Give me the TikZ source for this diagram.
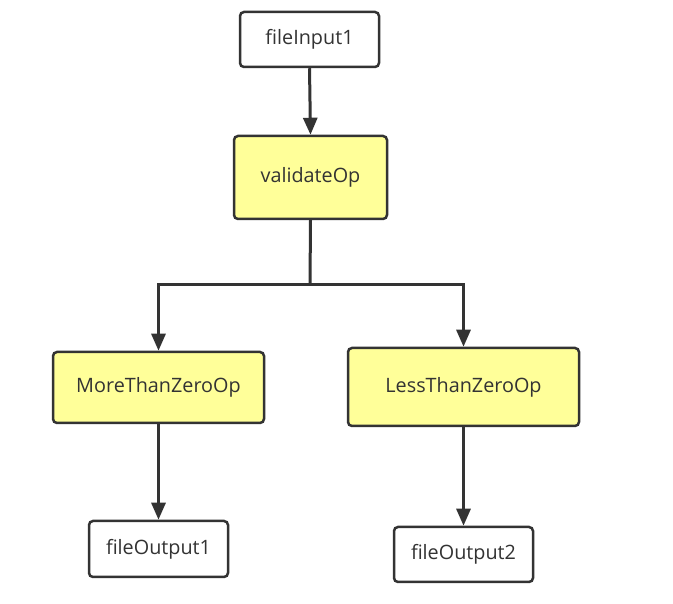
\documentclass[tikz,border=0pt]{standalone}
\usepackage{fontspec}
\setmainfont{Open Sans}
\usetikzlibrary{arrows.meta}
\definecolor{edgec}{HTML}{333333}
\definecolor{opfill}{HTML}{FFFF99}
\tikzset{
  box/.style={draw=edgec, line width=2.5pt, rounded corners=4pt, fill=white, inner sep=0pt,
    font=\fontsize{19.8}{23}\selectfont, text=edgec},
  opbox/.style={box, fill=opfill},
  conn/.style={draw=edgec, line width=3pt, -{Triangle[length=17pt,width=14pt]}},
  plain/.style={draw=edgec, line width=3pt}
}
\begin{document}
\begin{tikzpicture}[x=1pt,y=1pt]
\useasboundingbox (0,0) rectangle (673,604);
\node[box, minimum width=139pt, minimum height=55pt] (in) at (309.5,564.5) {fileInput1};
\node[opbox, minimum width=153pt, minimum height=83pt] (v) at (310.5,426.5) {validateOp};
\node[opbox, minimum width=211pt, minimum height=71pt] (m) at (158.5,216.5) {MoreThanZeroOp};
\node[opbox, minimum width=231pt, minimum height=78pt] (l) at (463.5,217) {LessThanZeroOp};
\node[box, minimum width=139pt, minimum height=56pt] (o1) at (158.5,55) {fileOutput1};
\node[box, minimum width=139pt, minimum height=55pt] (o2) at (463.5,49.5) {fileOutput2};
\coordinate (j) at (310,319);
\draw[conn] (in.south) -- (v.north);
\draw[plain] (v.south) -- (j);
\draw[conn] (j) -| (m.north);
\draw[conn] (j) -| (l.north);
\draw[conn] (m.south) -- (o1.north);
\draw[conn] (l.south) -- (o2.north);
\end{tikzpicture}
\end{document}
